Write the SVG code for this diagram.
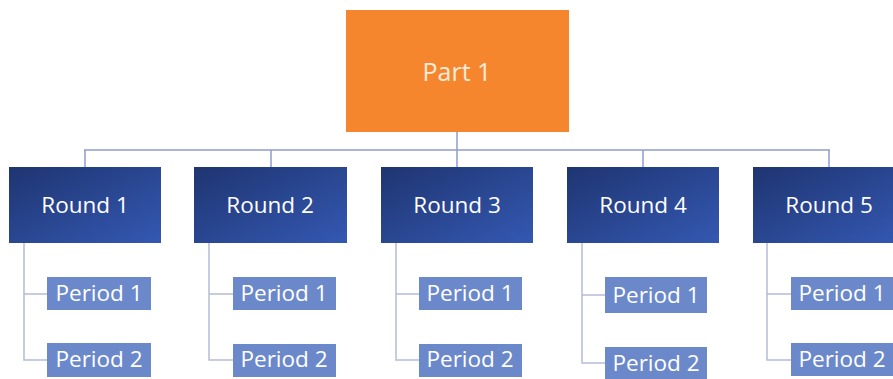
<svg xmlns="http://www.w3.org/2000/svg" width="893" height="379" viewBox="0 0 893 379">
<defs>
<linearGradient id="rg" x1="0" y1="0" x2="1" y2="1">
<stop offset="0" stop-color="#1F3571"/>
<stop offset="1" stop-color="#3458B2"/>
</linearGradient>
<style>
.conn{fill:none;stroke:#8E9FCC;stroke-width:1.5}
.sub{fill:none;stroke:#B4BDD6;stroke-width:1.5}
.round{fill:url(#rg)}
.period{fill:#6B89CA}
.t{font-family:"Open Sans","Noto Sans",sans-serif;fill:#FFFFFF;text-anchor:middle;dominant-baseline:central}
.rt{font-size:22.5px}
.pt{font-size:22.5px}
</style>
</defs>
<rect width="893" height="379" fill="#FFFFFF"/>
<g id="connectors">
<path class="conn" d="M457 132 V150 M84 150 H830 M85 150 V167 M271 150 V167 M457 150 V167 M643 150 V167 M829 150 V167"/>
<path class="sub" d="M24 243 V360 H47 M24 294 H47"/>
<path class="sub" d="M209 243 V360 H233 M209 294 H233"/>
<path class="sub" d="M396 243 V360 H419 M396 294 H419"/>
<path class="sub" d="M582 243 V363 H605 M582 295 H605"/>
<path class="sub" d="M767 243 V360 H791 M767 294 H791"/>
</g>
<g id="part1">
<rect x="346" y="10" width="223" height="122" fill="#F5862D"/>
<text class="t" x="457" y="71" font-size="25" style="fill:#FCEBDA">Part 1</text>
</g>
<g id="round1"><rect class="round" x="9" y="167" width="152" height="76"/><text class="t rt" x="85" y="204">Round 1</text></g>
<g id="round2"><rect class="round" x="194" y="167" width="153" height="76"/><text class="t rt" x="270" y="204">Round 2</text></g>
<g id="round3"><rect class="round" x="381" y="167" width="152" height="76"/><text class="t rt" x="457" y="204">Round 3</text></g>
<g id="round4"><rect class="round" x="567" y="167" width="152" height="76"/><text class="t rt" x="643" y="204">Round 4</text></g>
<g id="round5"><rect class="round" x="753" y="167" width="152" height="76"/><text class="t rt" x="829" y="204">Round 5</text></g>
<g id="r1p1"><rect class="period" x="47" y="277" width="104" height="33"/><text class="t pt" x="99" y="292">Period 1</text></g>
<g id="r1p2"><rect class="period" x="47" y="343" width="104" height="34"/><text class="t pt" x="99" y="358">Period 2</text></g>
<g id="r2p1"><rect class="period" x="233" y="277" width="103" height="33"/><text class="t pt" x="284" y="292">Period 1</text></g>
<g id="r2p2"><rect class="period" x="233" y="344" width="103" height="33"/><text class="t pt" x="284" y="358">Period 2</text></g>
<g id="r3p1"><rect class="period" x="419" y="277" width="103" height="33"/><text class="t pt" x="470" y="292">Period 1</text></g>
<g id="r3p2"><rect class="period" x="419" y="344" width="103" height="33"/><text class="t pt" x="470" y="358">Period 2</text></g>
<g id="r4p1"><rect class="period" x="605" y="277" width="102" height="36"/><text class="t pt" x="656" y="294">Period 1</text></g>
<g id="r4p2"><rect class="period" x="605" y="347" width="102" height="32"/><text class="t pt" x="656" y="362">Period 2</text></g>
<g id="r5p1"><rect class="period" x="791" y="277" width="102" height="33"/><text class="t pt" x="842" y="292">Period 1</text></g>
<g id="r5p2"><rect class="period" x="791" y="343" width="102" height="33"/><text class="t pt" x="842" y="358">Period 2</text></g>
</svg>
